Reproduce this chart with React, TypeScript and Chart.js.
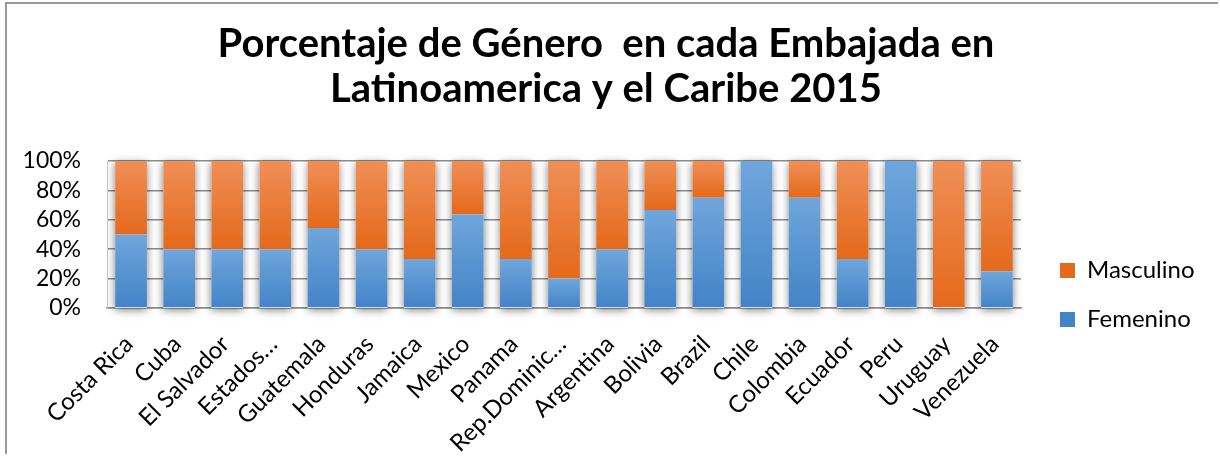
import React, { useEffect, useRef } from "react";
import { Chart, registerables } from "chart.js";

Chart.register(...registerables);

const categories = [
  "Costa Rica", "Cuba", "El Salvador", "Estados…", "Guatemala", "Honduras",
  "Jamaica", "Mexico", "Panama", "Rep.Dominic…", "Argentina", "Bolivia",
  "Brazil", "Chile", "Colombia", "Ecuador", "Peru", "Uruguay", "Venezuela",
];
const femenino = [50, 40, 40, 40, 54.5, 40, 33.3, 63.6, 33.3, 20, 40, 66.7, 75, 100, 75, 33.3, 100, 0, 25];
const masculino = [50, 60, 60, 60, 45.5, 60, 66.7, 36.4, 66.7, 80, 60, 33.3, 25, 0, 25, 66.7, 0, 100, 75];
const yTicks = [0, 20, 40, 60, 80, 100];
const titleLines = ["Porcentaje de Género  en cada Embajada en", "Latinoamerica y el Caribe 2015"];

const FONT = "Lato, 'Open Sans', sans-serif";

const BLUE = ["#6FA6DC", "#4383C7"];
const ORANGE = ["#F08F57", "#E4691B"];

function gradientFill(dsIndex: number, colors: string[], solid: string) {
  return (ctx: any) => {
    if (ctx.type !== "data") return solid;
    const chart = ctx.chart;
    const y = chart.scales && chart.scales.y;
    if (!chart.chartArea || !y) return solid;
    const i = ctx.dataIndex;
    const lo = dsIndex === 0 ? 0 : femenino[i];
    const hi = dsIndex === 0 ? femenino[i] : femenino[i] + masculino[i];
    const top = y.getPixelForValue(hi);
    const bottom = y.getPixelForValue(lo);
    if (!isFinite(top) || !isFinite(bottom) || Math.abs(bottom - top) < 1) return solid;
    const g = chart.ctx.createLinearGradient(0, top, 0, bottom);
    g.addColorStop(0, colors[0]);
    g.addColorStop(1, colors[1]);
    return g;
  };
}

const barShadow = {
  id: "barShadow",
  beforeDatasetsDraw(chart: any) {
    const meta = chart.getDatasetMeta(0);
    const y = chart.scales.y;
    const ctx = chart.ctx;
    const top = y.getPixelForValue(100);
    const bottom = y.getPixelForValue(0);
    ctx.save();
    ctx.shadowColor = "rgba(0,0,0,0.5)";
    ctx.shadowBlur = 8;
    ctx.shadowOffsetX = 0;
    ctx.shadowOffsetY = 2;
    ctx.fillStyle = "#ffffff";
    meta.data.forEach((bar: any) => {
      const w = bar.width;
      ctx.fillRect(bar.x - w / 2, top, w, bottom - top);
    });
    ctx.restore();
  },
};

const LEGEND_WIDTH = 184;
const LEGEND_SHIFT_X = 14;
const LEGEND_SHIFT_Y = 66;
const legendLayout = {
  id: "legendLayout",
  afterInit(chart: any) {
    const lg = chart.legend;
    if (!lg || lg.__patched) return;
    const origFit = lg.fit.bind(lg);
    lg.fit = function () {
      origFit();
      this.width = LEGEND_WIDTH;
    };
    lg.__patched = true;
  },
  afterLayout(chart: any) {
    const lg = chart.legend;
    if (!lg) return;
    lg.top += LEGEND_SHIFT_Y;
    lg.bottom += LEGEND_SHIFT_Y;
    lg.left += LEGEND_SHIFT_X;
    lg.right += LEGEND_SHIFT_X;
  },
};

export default function App() {
  const ref = useRef<HTMLCanvasElement | null>(null);

  useEffect(() => {
    if (!ref.current) return;
    const chart = new Chart(ref.current, {
      type: "bar",
      data: {
        labels: categories,
        datasets: [
          {
            label: "Femenino",
            data: femenino,
            backgroundColor: gradientFill(0, BLUE, "#5B9BD5"),
            borderWidth: 0,
            categoryPercentage: 0.66,
            barPercentage: 1,
          },
          {
            label: "Masculino",
            data: masculino,
            backgroundColor: gradientFill(1, ORANGE, "#ED7D31"),
            borderWidth: 0,
            categoryPercentage: 0.66,
            barPercentage: 1,
          },
        ],
      },
      options: {
        responsive: false,
        animation: false,
        layout: { padding: { left: 0, right: 13, top: 0, bottom: 0 } },
        plugins: {
          title: {
            display: true,
            text: titleLines,
            color: "#000",
            font: { family: FONT, size: 40, weight: "bold", lineHeight: 1.125 },
            padding: { top: 18, bottom: 49 },
          },
          legend: {
            position: "right",
            reverse: true,
            labels: {
              color: "#000",
              font: { family: FONT, size: 24 },
              boxWidth: 15,
              boxHeight: 15,
              padding: 25,
            },
          },
          tooltip: { enabled: false },
        },
        scales: {
          x: {
            stacked: true,
            grid: { display: false, drawTicks: false },
            border: { display: true, color: "#8c8c8c", width: 1.5 },
            ticks: {
              color: "#000",
              font: { family: FONT, size: 24 },
              maxRotation: 45,
              minRotation: 45,
              padding: 22,
              labelOffset: -2,
              autoSkip: false,
            },
            afterFit: (scale: any) => {
              scale.height = 146;
            },
          },
          y: {
            stacked: true,
            min: 0,
            max: 100,
            afterBuildTicks: (scale: any) => {
              scale.ticks = yTicks.map((v) => ({ value: v }));
            },
            grid: { color: "#8c8c8c", lineWidth: 1.5, drawTicks: false },
            border: { display: true, color: "#c8c8c8", width: 1 },
            ticks: {
              color: "#000",
              font: { family: FONT, size: 23 },
              padding: 26,
              autoSkip: false,
              callback: (v: any) => v + "%",
            },
            afterFit: (scale: any) => {
              scale.width = 100;
            },
          },
        },
      },
      plugins: [barShadow, legendLayout],
    });
    return () => chart.destroy();
  }, []);

  return (
    <div
      style={{
        position: "absolute",
        left: 5,
        top: 2,
        borderLeft: "2px solid #9a9a9a",
        borderTop: "2px solid #9a9a9a",
        background: "#fff",
      }}
    >
      <canvas ref={ref} width={1211} height={450} style={{ display: "block" }} />
    </div>
  );
}
